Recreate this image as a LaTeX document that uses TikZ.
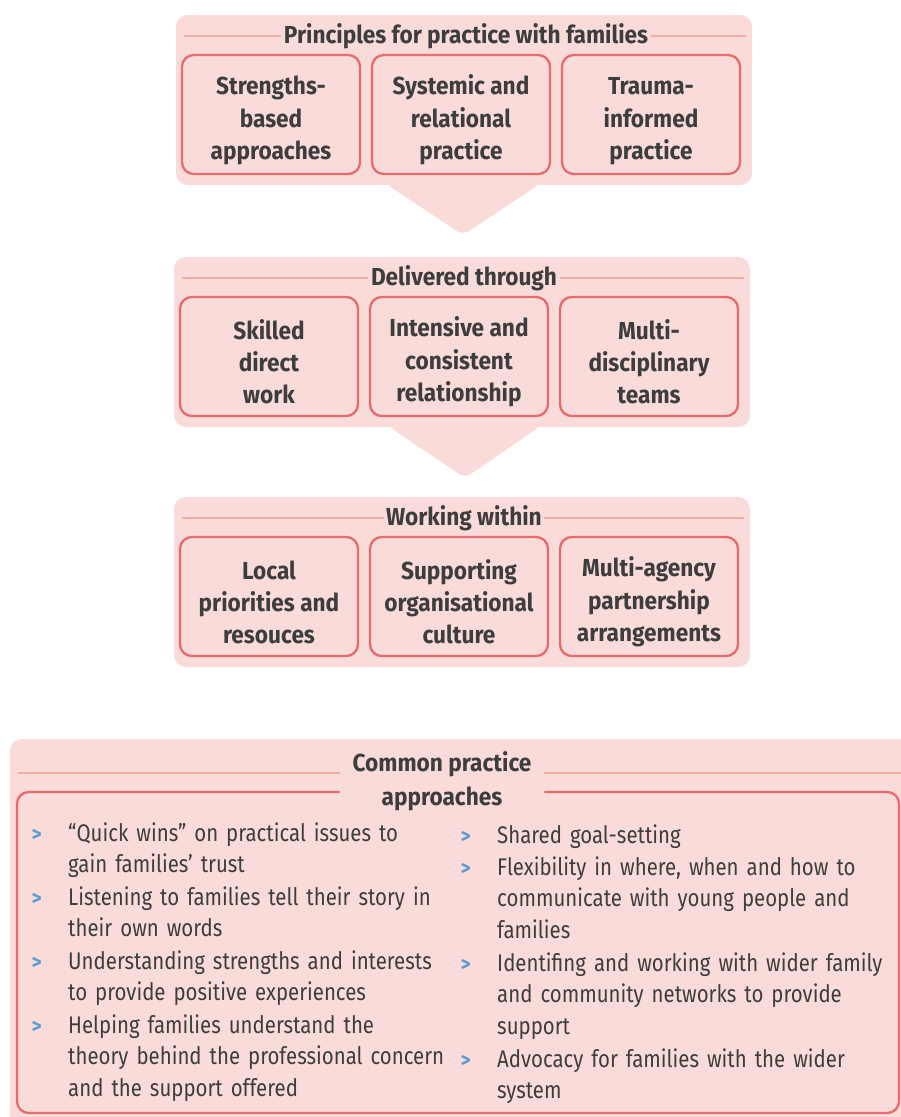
\documentclass[tikz,border=0pt]{standalone}
\usepackage{fontspec}
\setmainfont{Fira Sans}[FakeStretch=0.85, BoldFeatures={FakeStretch=0.92}]
\usetikzlibrary{positioning}

\definecolor{panelpink}{HTML}{F9DCD9}
\definecolor{framered}{HTML}{EA6B6E}
\definecolor{rulepink}{HTML}{F5AAA5}
\definecolor{textgrey}{HTML}{3D3D3D}
\definecolor{bulletblue}{HTML}{5A9BCF}

\newcommand\topstrut{\rule{0pt}{26pt}}

\tikzset{
  panel/.style={fill=panelpink, rounded corners=10pt},
  pointer/.style={fill=panelpink, rounded corners=6pt},
  heading/.style={font=\bfseries\fontsize{21}{29}\selectfont, text=textgrey, inner sep=2pt, align=center},
  topic/.style={draw=framered, line width=2pt, rounded corners=10pt, minimum width=5.34cm, minimum height=3.57cm,
    align=center, font=\bfseries\fontsize{21}{27.4}\selectfont, text=textgrey},
  rule/.style={draw=rulepink, line width=1.6pt},
  frame/.style={draw=framered, line width=2pt, rounded corners=10pt},
  practice/.style={anchor=base west, text width=13cm, align=left, inner sep=0pt,
    font=\fontsize{20.5}{27.3}\selectfont, text=textgrey},
  marker/.style={inner sep=0pt, text=bulletblue, font=\bfseries\fontsize{18}{20}\selectfont},
}

\begin{document}
\begin{tikzpicture}[x=0.03cm, y=-0.03cm]
    \useasboundingbox (0,0) rectangle (901,1117);

    % three stacked panels
    \foreach \px/\py/\pname/\heading/\ta/\tb/\tc in {
        176/15/principles/{Principles for practice with families}/{Strengths-\\based\\approaches}/{Systemic and\\relational\\practice}/{Trauma-\\informed\\practice},
        174/257/delivery/{Delivered through}/{Skilled\\direct\\work}/{Intensive and\\consistent\\relationship}/{Multi-\\disciplinary\\teams},
        174/497/context/{Working within}/{Local\\priorities and\\resouces}/{Supporting\\organisational\\culture}/{Multi-agency\\partnership\\arrangements}}
        {
            \fill[panel] (\px,\py) rectangle ++(576,170);
            \node[heading] (\pname head) at (\px+290,\py+21) {\heading};
            \draw[rule] (\px+8,\py+21) -- (\pname head.west);
            \draw[rule] (\pname head.east) -- (\px+570,\py+21);
            \node[topic] (\pname A) at (\px+95,\py+99.5) {\topstrut\ta};
            \node[topic] (\pname B) at (\px+285,\py+99.5) {\topstrut\tb};
            \node[topic] (\pname C) at (\px+475,\py+99.5) {\topstrut\tc};
        }
    \fill[pointer] (386,184) -- (540,184) -- (463,235) -- cycle;
    \fill[pointer] (388,426) -- (541,426) -- (465,478) -- cycle;

    % common practice approaches
    \begin{scope}
        \clip (0,0) rectangle (901,1117);
        \fill[panel] (10,739) rectangle (930,1140);
    \end{scope}
    \node[heading, inner xsep=11pt] (common) at (442,781) {Common practice\\approaches};
    \draw[rule] (18,773) -- (common.west |- 0,773);
    \draw[rule] (common.east |- 0,773) -- (901,773);
    \draw[frame] (common.west |- 0,792) -- (17,792) -- (17,1113) -- (899,1113) -- (899,792) -- (common.east |- 0,792);

    \foreach \y/\txt [count=\i] in {
        841/{“Quick wins” on practical issues to\\gain families’ trust},
        905/{Listening to families tell their story in\\their own words},
        969/{Understanding strengths and interests\\to provide positive experiences},
        1033/{Helping families understand the\\theory behind the professional concern\\and the support offered}}
        {
            \node[practice] (left\i) at (68,\y) {\txt};
            \node[marker, base left=0.78cm of left\i] (leftmark\i) {>};
        }
    \foreach \y/\txt [count=\i] in {
        843/{Shared goal-setting},
        875/{Flexibility in where, when and how to\\communicate with young people and\\families},
        971/{Identifing and working with wider family\\and community networks to provide\\support},
        1067/{Advocacy for families with the wider\\system}}
        {
            \node[practice] (right\i) at (497,\y) {\txt};
            \node[marker, base left=0.78cm of right\i] (rightmark\i) {>};
        }
\end{tikzpicture}
\end{document}
